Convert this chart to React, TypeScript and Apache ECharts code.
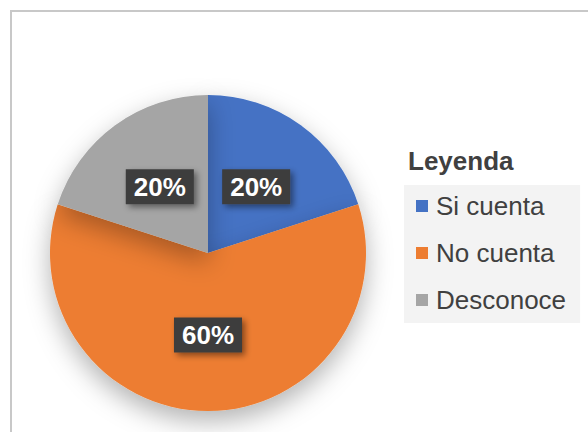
import React, { useEffect, useRef } from "react";
import * as echarts from "echarts";

const categories = ["Si cuenta", "No cuenta", "Desconoce"];
const values = [20, 60, 20];
const colors = ["#4472C4", "#ED7D31", "#A5A5A5"];
const legendTitle = "Leyenda";

export default function App() {
  const ref = useRef<HTMLDivElement>(null);
  useEffect(() => {
    if (!ref.current) return;
    const chart = echarts.init(ref.current, undefined, { renderer: "svg" });
    chart.setOption({
      animation: false,
      backgroundColor: "#ffffff",
      color: colors,
      title: {
        text: legendTitle,
        left: 403,
        top: 143,
        textStyle: {
          fontFamily: "Liberation Sans, Arial, sans-serif",
          fontSize: 26,
          fontWeight: "bold",
          color: "#404040",
        },
      },
      legend: {
        orient: "vertical",
        left: 404,
        top: 185,
        icon: "rect",
        itemWidth: 12,
        itemHeight: 12,
        itemGap: 17,
        padding: [6, 14, 8, 12],
        backgroundColor: "#f3f3f3",
        data: categories,
        textStyle: {
          fontFamily: "Liberation Sans, Arial, sans-serif",
          fontSize: 26,
          lineHeight: 30,
          color: "#404040",
          padding: [0, 0, 0, 3],
        },
      },
      graphic: [
        {
          type: "rect",
          shape: { x: 11, y: 11, width: 640, height: 480 },
          style: { fill: "none", stroke: "#c8c8c8", lineWidth: 2 },
          silent: true,
          z: 0,
        },
      ],
      series: [
        {
          type: "pie",
          center: [208, 253],
          radius: [0, 158],
          startAngle: 90,
          clockwise: true,
          data: categories.map((c, i) => ({ name: c, value: values[i] })),
          itemStyle: {
            borderWidth: 0,
            shadowBlur: 26,
            shadowColor: "rgba(0,0,0,0.3)",
            shadowOffsetY: 10,
          },
          label: {
            show: true,
            position: "inside",
            formatter: "{d}%",
            fontFamily: "Liberation Sans, Arial, sans-serif",
            fontSize: 26,
            fontWeight: "bold",
            color: "#ffffff",
            backgroundColor: "#3c3c3c",
            padding: [5, 8, 4, 8],
            shadowColor: "rgba(0,0,0,0.45)",
            shadowBlur: 6,
            shadowOffsetX: 3,
            shadowOffsetY: 3,
          },
          labelLine: { show: false },
          emphasis: { disabled: true },
        },
      ],
    });
    return () => chart.dispose();
  }, []);
  return (
    <div
      ref={ref}
      style={{ position: "fixed", left: 0, top: 0, width: 588, height: 432 }}
    />
  );
}
